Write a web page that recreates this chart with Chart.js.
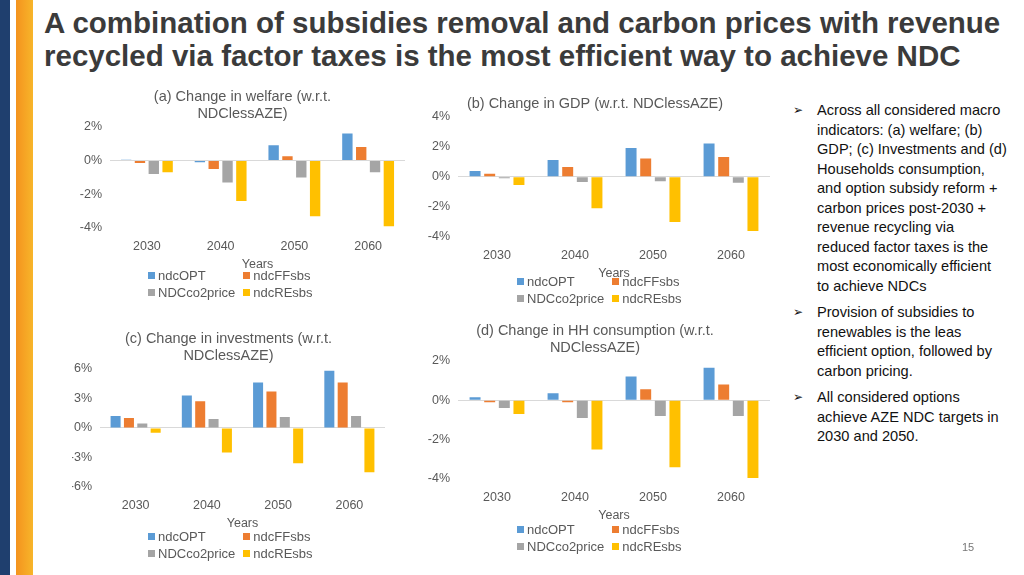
<!DOCTYPE html><html><head><meta charset="utf-8">
<script src="https://cdn.jsdelivr.net/npm/chart.js@4/dist/chart.umd.min.js"></script>
<style>
body{margin:0;width:1024px;height:575px;position:relative;background:#fff;font-family:"Liberation Sans",Arial,sans-serif;overflow:hidden}
.bar1{position:absolute;left:0;top:0;width:10px;height:575px;background:#1f3f6e}
.bar2{position:absolute;left:16px;top:0;width:17px;height:575px;background:linear-gradient(90deg,#f4931e,#f7b52a)}
h1{position:absolute;left:44px;top:6px;margin:0;font-size:29.5px;line-height:33px;color:#3b3b3b;font-weight:bold;white-space:nowrap}
.c{position:absolute}
.lg{position:absolute;font-size:13px;color:#595959;display:grid;grid-template-columns:auto auto;column-gap:8px;row-gap:2px}
.lg span{display:flex;align-items:center}
.lg i{display:inline-block;width:7px;height:7px;margin-right:3px}
.txt{position:absolute;left:793px;top:101px;width:214px;font-size:14.6px;line-height:19.5px;color:#111}
.txt p{margin:0 0 7px 0;padding-left:24px;position:relative}
.txt p:before{content:"\27A2";position:absolute;left:0;top:0;font-family:"DejaVu Sans";font-size:12px}
.pg{position:absolute;left:962px;top:541px;font-size:11px;color:#777}
</style></head><body>
<div class="bar1"></div><div class="bar2"></div>
<h1>A combination of subsidies removal and carbon prices with revenue<br>recycled via factor taxes is the most efficient way to achieve NDC</h1>
<div class="c" style="left:80px;top:88px;width:330px;height:188px"><canvas id="a"></canvas></div>
<div class="c" style="left:420px;top:95px;width:355px;height:190px"><canvas id="b"></canvas></div>
<div class="c" style="left:72px;top:330px;width:318px;height:205px"><canvas id="c"></canvas></div>
<div class="c" style="left:420px;top:322px;width:355px;height:205px"><canvas id="d"></canvas></div>
<div class="lg" style="left:148px;top:268px" id="la"></div>
<div class="lg" style="left:517px;top:274px" id="lb"></div>
<div class="lg" style="left:148px;top:529px" id="lc"></div>
<div class="lg" style="left:517px;top:522px" id="ld"></div>
<div class="txt">
<p>Across all considered macro indicators: (a) welfare; (b) GDP; (c) Investments and (d) Households consumption, and option subsidy reform + carbon prices post-2030 + revenue recycling via reduced factor taxes is the most economically efficient to achieve NDCs</p>
<p>Provision of subsidies to renewables is the leas efficient option, followed by carbon pricing.</p>
<p>All considered options achieve AZE NDC targets in 2030 and 2050.</p>
</div>
<div class="pg">15</div>
<script>
const years=["2030","2040","2050","2060"];
const seriesNames=["ndcOPT","ndcFFsbs","NDCco2price","ndcREsbs"];
const colors=["#5b9bd5","#ed7d31","#a5a5a5","#ffc000"];
const welOPT=[0.05,-0.1,0.9,1.6],welFF=[-0.15,-0.5,0.25,0.8],welCO2=[-0.8,-1.3,-1.0,-0.7],welRE=[-0.7,-2.4,-3.3,-3.9];
const gdpOPT=[0.38,1.1,1.9,2.2],gdpFF=[0.2,0.65,1.2,1.3],gdpCO2=[-0.1,-0.35,-0.3,-0.4],gdpRE=[-0.55,-2.1,-3.0,-3.6];
const invOPT=[1.2,3.3,4.6,5.8],invFF=[1.0,2.7,3.7,4.6],invCO2=[0.45,0.9,1.1,1.2],invRE=[-0.5,-2.5,-3.6,-4.5];
const hhOPT=[0.15,0.35,1.2,1.65],hhFF=[-0.1,-0.1,0.55,0.8],hhCO2=[-0.4,-0.9,-0.8,-0.8],hhRE=[-0.7,-2.5,-3.4,-3.95];
Chart.defaults.font.family='"Liberation Sans",Arial,sans-serif';
Chart.defaults.color='#595959';
function mk(id,title,data,min,max,step,yw){
 new Chart(document.getElementById(id),{type:'bar',
  data:{labels:years,datasets:data.map((d,i)=>({label:seriesNames[i],data:d,backgroundColor:colors[i],barPercentage:0.75,categoryPercentage:0.75}))},
  options:{responsive:true,maintainAspectRatio:false,animation:false,
   layout:{padding:{right:5}},
   plugins:{legend:{display:false},tooltip:{enabled:false},
    title:{display:true,text:title,font:{size:14.5,weight:'normal'},color:'#595959',padding:{top:0,bottom:4}}},
   scales:{x:{grid:{display:false},border:{display:false},ticks:{font:{size:12.5}},title:{display:true,text:'Years',font:{size:12.5},padding:{top:0}}},
    y:{min:min,max:max,afterFit:s=>{s.width=yw},border:{display:false},
     grid:{color:c=>c.tick.value===0?'#d9d9d9':'rgba(0,0,0,0)',drawTicks:false},
     ticks:{stepSize:step,font:{size:12.5},padding:8,callback:v=>v+'%'}}}}});
}
mk('a',['(a) Change in welfare (w.r.t.','NDClessAZE)'],[welOPT,welFF,welCO2,welRE],-4,2,2,30);
mk('b','(b) Change in GDP (w.r.t. NDClessAZE)',[gdpOPT,gdpFF,gdpCO2,gdpRE],-4,4,2,38);
mk('c',['(c) Change in investments (w.r.t.','NDClessAZE)'],[invOPT,invFF,invCO2,invRE],-6,6,3,28);
mk('d',['(d) Change in HH consumption (w.r.t.','NDClessAZE)'],[hhOPT,hhFF,hhCO2,hhRE],-4,2,2,38);
['la','lb','lc','ld'].forEach(id=>{document.getElementById(id).innerHTML=seriesNames.map((n,i)=>`<span><i style="background:${colors[i]}"></i>${n}</span>`).join('')});
</script></body></html>
